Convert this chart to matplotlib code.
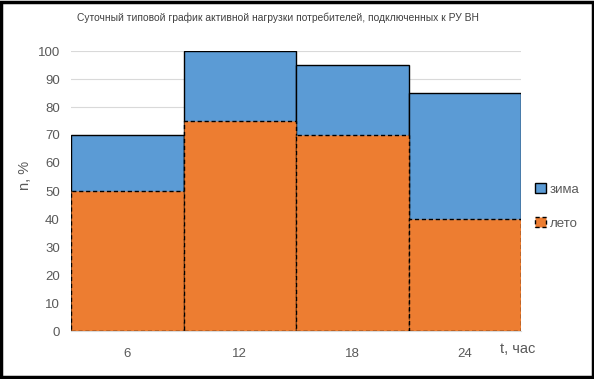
import matplotlib
matplotlib.use("Agg")
import matplotlib.pyplot as plt
from matplotlib.patches import Rectangle

hours = ["6", "12", "18", "24"]
winter = [70, 100, 95, 85]
summer = [50, 75, 70, 40]
yticks = [0, 10, 20, 30, 40, 50, 60, 70, 80, 90, 100]

plt.rcParams['font.family'] = ['Liberation Sans', 'DejaVu Sans']
blue = '#5B9BD5'
orange = '#ED7D31'
gray = '#595959'

fig = plt.figure(figsize=(5.94, 3.79), dpi=100)
ax = fig.add_axes([71/594, 1-331/379, 450/594, 280/379])
x = list(range(len(hours)))
ax.bar(x, winter, width=1.0, color=blue, edgecolor='black', linewidth=1.0, label='зима', zorder=2)
ax.bar(x, summer, width=1.0, color=orange, edgecolor='black', linewidth=1.0, linestyle=(0, (3, 2)), label='лето', zorder=3)
ax.set_xlim(-0.5, len(hours) - 0.5)
ax.set_ylim(0, 100)
ax.set_yticks(yticks)
ax.set_xticks(x)
ax.set_xticklabels(hours)
ax.grid(axis='y', color='#D9D9D9', linewidth=0.8, zorder=0)
ax.set_axisbelow(True)
for s in ['top', 'right', 'left']:
    ax.spines[s].set_visible(False)
ax.spines['bottom'].set_color('#D9D9D9')
ax.tick_params(axis='both', length=0, colors=gray, labelsize=9.5)
ax.tick_params(axis='x', pad=12)
ax.tick_params(axis='y', pad=8)

fig.text(25/594, 1-175/379, 'n, %', rotation=90, ha='center', va='center', color=gray, fontsize=10.5)
fig.text(518/594, 1-349/379, 't, час', ha='center', va='center', color=gray, fontsize=10.5)
fig.text(278/594, 1-18/379, 'Суточный типовой график активной нагрузки потребителей, подключенных к РУ ВН',
         ha='center', va='center', color='#404040', fontsize=7.4)

leg = ax.legend(loc='center left', bbox_to_anchor=(1.005, 0.445), frameon=False, fontsize=9.5,
                handlelength=0.8, handleheight=0.8, handletextpad=0.3, labelspacing=1.65, labelcolor=gray)

fig.add_artist(Rectangle((0.0025, 0.004), 0.995, 0.992, transform=fig.transFigure,
                         fill=False, edgecolor='black', linewidth=2.5))
fig.savefig('out.png', dpi=100)
